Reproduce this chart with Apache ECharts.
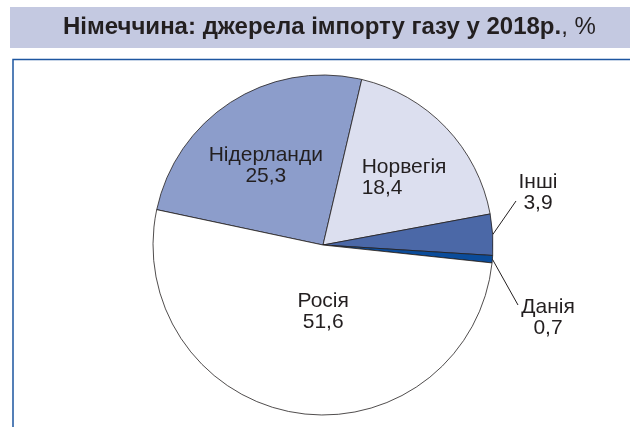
<!doctype html>
<html>
<head>
    <meta charset="utf-8">
    <title>Німеччина: джерела імпорту газу</title>
    <script src="https://cdn.jsdelivr.net/npm/echarts@6/dist/echarts.min.js"></script>
    <style>
        html, body { margin: 0; padding: 0; background: #fff; }
        #main { width: 630px; height: 427px; }
    </style>
</head>
<body>
<div id="main"></div>
<script type="text/javascript">
    // дані з рисунка
    var countries = ['Нідерланди', 'Норвегія', 'Інші', 'Данія', 'Росія'];
    var shares = [25.3, 18.4, 3.9, 0.7, 51.6];
    var colors = ['#8c9dcb', '#dcdfef', '#4b68a7', '#0b4c9a', '#ffffff'];

    function fmt(v) {
        return String(v).replace('.', ',');
    }

    var labelFont = { fontFamily: 'Liberation Sans', fontSize: 21, lineHeight: 21, color: '#231f20' };

    // підписи всередині секторів - трохи зсуваємо як на оригіналі
    var inside = {
        'Нідерланди': { offset: [-10, -5], left: false },
        'Норвегія': { offset: [20, -7], left: true },
        'Росія': { offset: [14, -20], left: false }
    };
    // зовнішні підписи: центр тексту і кінець виносної лінії
    var outside = {
        'Інші': { x: 538, y: 193, end: [516, 201] },
        'Данія': { x: 548, y: 318, end: [518, 305] }
    };

    var pieData = [];
    for (var i = 0; i < countries.length; i++) {
        var item = {
            name: countries[i],
            value: shares[i],
            itemStyle: { color: colors[i] }
        };
        if (inside[countries[i]]) {
            item.label = {
                position: 'inside',
                offset: inside[countries[i]].offset
            };
            if (inside[countries[i]].left) {
                // Норвегія - рядки вирівняні по лівому краю
                item.label.formatter = function (p) {
                    return '{l|' + p.name + '}\n{l|' + fmt(p.value) + '}';
                };
                item.label.rich = {
                    l: Object.assign({ width: 90, align: 'left' }, labelFont)
                };
            }
            item.labelLine = { show: false };
        } else {
            item.label = { position: 'outside', align: 'center' };
            item.labelLine = { show: true };
        }
        pieData.push(item);
    }

    var myChart = echarts.init(document.getElementById('main'), null, { renderer: 'canvas' });
    var option = {
        animation: false,
        title: {
            text: '{b|Німеччина: джерела імпорту газу у 2018р.}{n|, %}',
            left: 58,
            top: 10,
            textStyle: {
                fontWeight: 'normal',
                rich: {
                    b: { fontFamily: 'Liberation Sans', fontSize: 24, fontWeight: 'bold', color: '#231f20' },
                    n: { fontFamily: 'Liberation Sans', fontSize: 24, fontWeight: 'normal', color: '#231f20' }
                }
            }
        },
        graphic: [
            {
                type: 'rect', z: -1, silent: true,
                shape: { x: 10, y: 7, width: 620, height: 41 },
                style: { fill: '#c4c9e1' }
            },
            {
                type: 'polyline', silent: true,
                shape: { points: [[13, 427], [13, 59.5], [630, 59.5]] },
                style: { stroke: '#1d56a0', lineWidth: 1.5, fill: null }
            }
        ],
        series: [{
            type: 'pie',
            center: [323, 245],
            radius: [0, 170],
            startAngle: 168,
            clockwise: true,
            data: pieData,
            itemStyle: { borderColor: '#231f20', borderWidth: 0.8 },
            label: Object.assign({
                show: true,
                formatter: function (p) { return p.name + '\n' + fmt(p.value); }
            }, labelFont),
            labelLine: {
                length: 12,
                length2: 8,
                lineStyle: { color: '#231f20', width: 1 }
            },
            labelLayout: function (params) {
                var pos = outside[countries[params.dataIndex]];
                if (pos) {
                    var start = params.labelLinePoints ? params.labelLinePoints[0] : pos.end;
                    return {
                        x: pos.x, y: pos.y, align: 'center', verticalAlign: 'middle',
                        labelLinePoints: [start, pos.end]
                    };
                }
                return {};
            }
        }]
    };
    myChart.setOption(option);
</script>
</body>
</html>
